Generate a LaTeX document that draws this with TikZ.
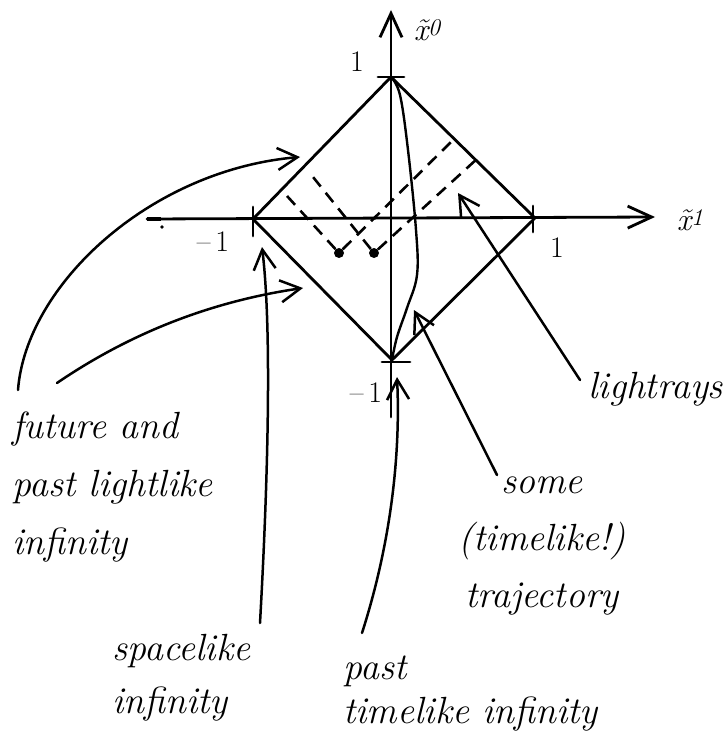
\documentclass[tikz,border=0pt]{standalone}
\usepackage{fontspec}
\usetikzlibrary{arrows.meta}
\newcommand\handfont[1]{\fontsize{38}{#1}\selectfont\itshape}
\tikzset{
  stroke/.style={line width=2.8bp, line cap=round, line join=round},
  ray/.style={line width=2.6bp, dash pattern=on 12bp off 8bp},
  pointer/.style={line width=2.5bp, line cap=round, -{Straight Barb[length=20bp,width=22bp]}},
  axisarrow/.style={stroke, -{Straight Barb[length=24bp,width=22bp]}},
  hand/.style={inner sep=0pt, font=\handfont{58}},
  num/.style={inner sep=0pt, font=\fontsize{30}{34}\selectfont},
  dot/.style={circle, fill, inner sep=0pt, minimum size=10bp},
}
\begin{document}
\begin{tikzpicture}[x=1bp,y=-1bp]
\useasboundingbox (0,0) rectangle (728,733);
% diamond vertices
\coordinate (T) at (391,77);
\coordinate (R) at (535,218);
\coordinate (B) at (392,360);
\coordinate (L) at (253,219);
% axes
\coordinate (hs) at (147,219);
\coordinate (he) at (655,217);
\coordinate (vs) at (391,417);
\coordinate (ve) at (391,10);
\draw[axisarrow] (hs) -- (he);
\draw[axisarrow] (vs) -- (ve);
\draw[line width=4.5bp] (hs) -- ++(14,0);
\fill (162,227) circle (1.8bp);
% ticks
\draw[stroke] ([xshift=-13bp]T) -- ([xshift=13bp]T);
\draw[stroke] ([yshift=12bp]L) -- ([yshift=-17bp]L);
\draw[stroke] ([xshift=-2bp,yshift=12bp]R) -- ([xshift=-2bp,yshift=-14bp]R);
\draw[stroke] ([xshift=-10bp,yshift=-2bp]B) -- ([xshift=18bp,yshift=-2bp]B);
% diamond
\draw[stroke] (T) -- (R) -- (B) -- (L) -- cycle;
% numbers and axis labels
\node[num] (n1t) at (357,62) {1};
\node[num] (n1l) at (213,242) {\textendash\,1};
\node[num] (n1r) at (557,248) {1};
\node[num] (n1b) at (366,393) {\textendash\,1};
\node[inner sep=0pt, font=\fontsize{32}{36}\selectfont\itshape] (x0) at (427,30) {\~x\raisebox{0.4ex}{\fontsize{24}{26}\selectfont 0}};
\node[inner sep=0pt, font=\fontsize{32}{36}\selectfont\itshape] (x1) at (690,220) {\~x\raisebox{0.4ex}{\fontsize{24}{26}\selectfont 1}};
% light rays
\node[dot] (p1) at (339,253) {};
\node[dot] (p2) at (374,253) {};
\coordinate (r1a) at (287,196);
\coordinate (r1b) at (453,140);
\coordinate (r2a) at (309,172);
\coordinate (r2b) at (478,158);
\draw[ray] (p1) -- (r1a);
\draw[ray] (p1) -- (r1b);
\draw[ray] (p2) -- (r2a);
\draw[ray] (p2) -- (r2b);
% timelike trajectory
\draw[line width=2.4bp] plot[smooth, tension=0.6] coordinates {(391,77) (400,95) (408,150) (416,230) (417,275) (407,308) (397,337) (392,360)};
% labels
\node[hand, anchor=north west, align=left] (lll) at (12,412) {future and\\past lightlike\\infinity};
\node[hand, anchor=north west, align=left, font=\handfont{53}] (spi) at (112,634) {spacelike\\infinity};
\node[hand, anchor=north west, align=left, font=\handfont{44}] (pti) at (343,656) {past\\timelike infinity};
\node[hand, anchor=north, align=center, font=\handfont{57}] (tra) at (542,477) {some\\(timelike!)\\trajectory};
\node[hand, anchor=north west] (lr) at (588,372) {lightrays};
% pointers
\coordinate (a1s) at (18,390);  \coordinate (a1e) at (300,157);
\coordinate (a2s) at (57,383);  \coordinate (a2e) at (303,288);
\coordinate (a3s) at (260,623); \coordinate (a3e) at (262,247);
\coordinate (a4s) at (362,633); \coordinate (a4e) at (397,377);
\coordinate (a5s) at (497,475); \coordinate (a5e) at (414,310);
\coordinate (a6s) at (580,380); \coordinate (a6e) at (458,193);
\draw[pointer] (a1s) .. controls (26,285) and (150,170) .. (a1e);
\draw[pointer] (a2s) .. controls (120,340) and (200,303) .. (a2e);
\draw[pointer] (a3s) .. controls (268,480) and (272,330) .. (a3e);
\draw[pointer] (a4s) .. controls (395,530) and (400,440) .. (a4e);
\draw[pointer] (a5s) -- (a5e);
\draw[pointer] (a6s) -- (a6e);
\end{tikzpicture}
\end{document}
